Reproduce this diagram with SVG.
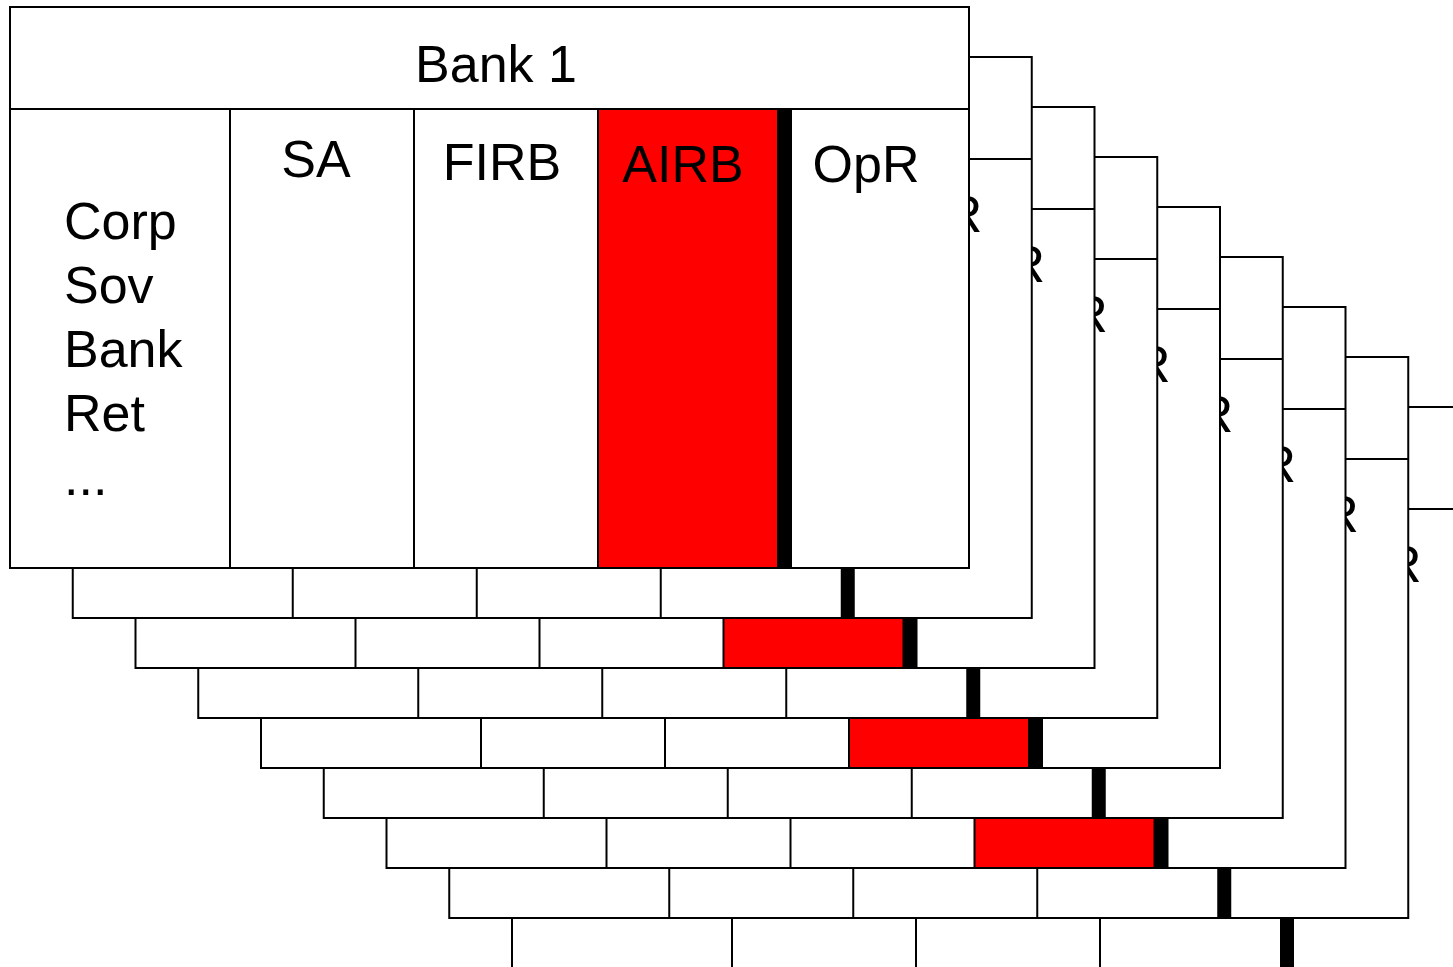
<svg xmlns="http://www.w3.org/2000/svg" width="1453" height="967" viewBox="0 0 1453 967">
<style>
.card{fill:#fff;stroke:#000;stroke-width:2}
.ln{stroke:#000;stroke-width:2;fill:none}
.red{fill:#ff0000;stroke:#000;stroke-width:2}
.bar{fill:#000;stroke:none}
.t{font-family:"Liberation Sans",Arial,sans-serif;font-size:52px;fill:#000}
.h{font-family:"Liberation Sans",Arial,sans-serif;font-size:52px;fill:#000}
.m{text-anchor:middle}
</style>
<rect x="0" y="0" width="1453" height="967" fill="#fff"/>
<g id="bank9" transform="translate(502,400)">
<rect class="card" x="10" y="7" width="959" height="561"/>
<line class="ln" x1="10" y1="109" x2="969" y2="109"/>
<line class="ln" x1="230" y1="109" x2="230" y2="568"/>
<line class="ln" x1="414" y1="109" x2="414" y2="568"/>
<line class="ln" x1="598" y1="109" x2="598" y2="568"/>
<rect class="bar" x="778" y="109" width="14" height="459"/>
<text class="t m" x="866" y="182">OpR</text>
</g>
<g id="bank8" transform="translate(439.25,350)">
<rect class="card" x="10" y="7" width="959" height="561"/>
<line class="ln" x1="10" y1="109" x2="969" y2="109"/>
<line class="ln" x1="230" y1="109" x2="230" y2="568"/>
<line class="ln" x1="414" y1="109" x2="414" y2="568"/>
<line class="ln" x1="598" y1="109" x2="598" y2="568"/>
<rect class="bar" x="778" y="109" width="14" height="459"/>
<text class="t m" x="866" y="182">OpR</text>
</g>
<g id="bank7" transform="translate(376.5,300)">
<rect class="card" x="10" y="7" width="959" height="561"/>
<line class="ln" x1="10" y1="109" x2="969" y2="109"/>
<line class="ln" x1="230" y1="109" x2="230" y2="568"/>
<line class="ln" x1="414" y1="109" x2="414" y2="568"/>
<rect class="red" x="598" y="109" width="180" height="459"/>
<rect class="bar" x="778" y="109" width="14" height="459"/>
<text class="t m" x="866" y="182">OpR</text>
</g>
<g id="bank6" transform="translate(313.75,250)">
<rect class="card" x="10" y="7" width="959" height="561"/>
<line class="ln" x1="10" y1="109" x2="969" y2="109"/>
<line class="ln" x1="230" y1="109" x2="230" y2="568"/>
<line class="ln" x1="414" y1="109" x2="414" y2="568"/>
<line class="ln" x1="598" y1="109" x2="598" y2="568"/>
<rect class="bar" x="778" y="109" width="14" height="459"/>
<text class="t m" x="866" y="182">OpR</text>
</g>
<g id="bank5" transform="translate(251,200)">
<rect class="card" x="10" y="7" width="959" height="561"/>
<line class="ln" x1="10" y1="109" x2="969" y2="109"/>
<line class="ln" x1="230" y1="109" x2="230" y2="568"/>
<line class="ln" x1="414" y1="109" x2="414" y2="568"/>
<rect class="red" x="598" y="109" width="180" height="459"/>
<rect class="bar" x="778" y="109" width="14" height="459"/>
<text class="t m" x="866" y="182">OpR</text>
</g>
<g id="bank4" transform="translate(188.25,150)">
<rect class="card" x="10" y="7" width="959" height="561"/>
<line class="ln" x1="10" y1="109" x2="969" y2="109"/>
<line class="ln" x1="230" y1="109" x2="230" y2="568"/>
<line class="ln" x1="414" y1="109" x2="414" y2="568"/>
<line class="ln" x1="598" y1="109" x2="598" y2="568"/>
<rect class="bar" x="778" y="109" width="14" height="459"/>
<text class="t m" x="866" y="182">OpR</text>
</g>
<g id="bank3" transform="translate(125.5,100)">
<rect class="card" x="10" y="7" width="959" height="561"/>
<line class="ln" x1="10" y1="109" x2="969" y2="109"/>
<line class="ln" x1="230" y1="109" x2="230" y2="568"/>
<line class="ln" x1="414" y1="109" x2="414" y2="568"/>
<rect class="red" x="598" y="109" width="180" height="459"/>
<rect class="bar" x="778" y="109" width="14" height="459"/>
<text class="t m" x="866" y="182">OpR</text>
</g>
<g id="bank2" transform="translate(62.75,50)">
<rect class="card" x="10" y="7" width="959" height="561"/>
<line class="ln" x1="10" y1="109" x2="969" y2="109"/>
<line class="ln" x1="230" y1="109" x2="230" y2="568"/>
<line class="ln" x1="414" y1="109" x2="414" y2="568"/>
<line class="ln" x1="598" y1="109" x2="598" y2="568"/>
<rect class="bar" x="778" y="109" width="14" height="459"/>
<text class="t m" x="866" y="182">OpR</text>
</g>
<g id="bank1">
<rect class="card" x="10" y="7" width="959" height="561"/>
<line class="ln" x1="10" y1="109" x2="969" y2="109"/>
<line class="ln" x1="230" y1="109" x2="230" y2="568"/>
<line class="ln" x1="414" y1="109" x2="414" y2="568"/>
<rect class="red" x="598" y="109" width="180" height="459"/>
<rect class="bar" x="778" y="109" width="14" height="459"/>
<text class="h m" x="496" y="82">Bank 1</text>
<text class="t m" x="316" y="177">SA</text>
<text class="t m" x="502" y="180">FIRB</text>
<text class="t m" x="683" y="182">AIRB</text>
<text class="t m" x="866" y="182">OpR</text>
<text class="t" x="64" y="239">Corp</text>
<text class="t" x="64" y="303">Sov</text>
<text class="t" x="64" y="367">Bank</text>
<text class="t" x="64" y="431">Ret</text>
<text class="t" x="64" y="495">...</text>
</g>
<g id="connectors"></g>
</svg>
